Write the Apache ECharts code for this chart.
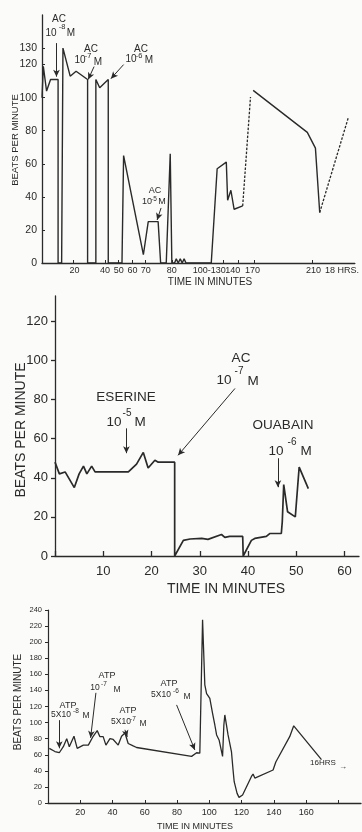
<!DOCTYPE html>
<html>
<head>
<meta charset="utf-8">
<script src="https://cdn.jsdelivr.net/npm/echarts@6/dist/echarts.min.js"></script>
<style>
  html, body { margin: 0; background: #fbfbf9; }
  #chart { width: 362px; height: 832px; }
</style>
</head>
<body>
<div id="chart"></div>
<script>
// ---- panel 1 (broken time axis: x = position along the axis, roughly minutes at the start)
const p1LabelPos = [22, 42.7, 52, 61.3, 70.3, 88, 113.3, 129.3, 142.7, 184, 203.3];
const p1LabelText = ['20', '40', '50', '60', '70', '80', '100-130', '140', '170', '210', '18 HRS.'];
const p1TickPos = [21.3, 42.7, 52, 61.3, 70.3, 88, 122.7, 133.1, 143.5, 183.1];
const p1YTicks = [0, 20, 40, 60, 80, 100, 120, 130];
const p1Trace = [[0,100],[0.9,119],[3.1,104],[5.8,111],[10.9,111],[10.9,0],[13.3,0],[14.2,130],[19.1,113],
  [23.1,116],[30.9,111],[30.9,0],[36.5,0],[36.5,111],[39.1,106],[44.9,111],[44.9,0],[54.2,0],[55.3,65],
  [68.7,5],[72,25],[78.7,25],[80.4,0],[84.2,0],[86.9,66],[88,0],[89.8,0],[91,2.5],[92.3,0],[93.7,2.5],
  [95,0],[96.3,2.5],[97.6,0],[114.7,0],[118.7,57],[124.9,61],[125.8,38],[128,44],[130.2,32.5],[136,34.5]];
const p1Gap1 = [[136,34.5],[141.3,100.4]];
const p1Late = [[143.1,104.4],[179.8,79],[185.3,69.5],[188.2,30.5]];
const p1Gap2 = [[188.2,30.5],[207.5,87.7]];
const p1Arrows = [[9.8,133,9.8,112.7],[35.3,118.8,31.3,111],[55.3,120,46.7,111.5],[80.7,33.3,78,26]];

// ---- panel 2 (minutes)
const p2Trace = [[0,48],[0.9,42],[2.1,43],[4,35],[5,42],[5.9,46],[6.6,42],[7.6,46],[8.3,43],[15.2,43],
  [16.9,47],[18.3,53],[19.3,45],[20.7,49],[21.4,48],[24.8,48],[24.8,0],[25.2,0],[26.6,8],[28,8.7],
  [30.4,9],[31.7,8.5],[34.5,11],[35.2,9.5],[36.2,10],[38.9,10],[39,0],[39.3,0],[40.7,8],[41.4,9],
  [43.8,10],[44.5,11.5],[46.9,11.5],[47.1,17.5],[47.4,36.5],[48.2,22.6],[49.8,20],[50.6,45.5],[52.5,34.5]];
const p2Arrows = [[14.8,65.3,14.8,52.6],[37.3,85.7,25.5,51.5],[46.2,50,46.2,35.2]];

// ---- panel 3 (minutes)
const p3Trace = [[0.8,68],[4.3,64],[7,62.5],[9.5,70],[11.6,80],[13.2,70],[16.1,83],[18.1,68],[21.9,72],
  [25,72],[28,83],[30.5,90],[32.2,82.5],[34.2,82.5],[35.9,72],[38.4,80],[40.4,79],[43.5,72],[45.6,83],
  [47.7,87],[49.7,74],[52.8,71],[54.9,69],[89,58],[92.1,62.5],[94.1,62],[95.8,228],[97.2,147],[98.3,136],
  [100.3,130],[102,111.5],[103.4,97],[104.5,84.6],[106.1,78],[108.2,58],[109,97],[109.6,109.5],[111.6,84.6],
  [113.7,64],[114.7,41],[115.4,26.5],[117.2,12],[118.4,7],[120.6,10],[126.1,33],[127.1,36],[128.2,31],
  [139.5,41],[141.2,51],[149.8,82.5],[152.3,96],[169.5,54]];
const p3Arrows = [[7,103,7,68],[29.7,137,26.4,81],[47.7,91,49.1,82],[79.7,122,91,66]];

// annotation texts: [text, x, y, size]
const notes = [
  ['AC',59,19,10],['10',51,33,10],['-8',62,27,7.5],['M',71,33,10],
  ['AC',91,49,10],['10',80,60,10],['-7',88,56,7.5],['M',98,62,10],
  ['AC',141,49,10],['10',131,59,10],['-6',139,56,7.5],['M',149,60,10],
  ['AC',155,191,9],['10',147,202,9],['-5',154,199,6.5],['M',162,202,9],
  ['ESERINE',126,397,13.5],['10',114,422,13.5],['-5',127,413,10],['M',140,422,13.5],
  ['AC',241,358,13.5],['10',224,380,13.5],['-7',239,371,10],['M',253,381,13.5],
  ['OUABAIN',283,425,13.5],['10',276,451,13.5],['-6',292,442,10],['M',306,451,13.5],
  ['ATP',68,706,9],['5X10',61,715,8.5],['-8',76,711,6.5],['M',86,716,8.5],
  ['ATP',107,676,9],['10',95,688,8.5],['-7',104,684,6.5],['M',117,690,8.5],
  ['ATP',128,711,9],['5X10',121,722,8.5],['-7',133,719,6.5],['M',143,724,8.5],
  ['ATP',169,684,9],['5X10',161,695,8.5],['-6',176,691,6.5],['M',187,697,8.5],
  ['16HRS',323,763,8],['\u2192',343,767,8]
];

const INK = '#2a2a2a';
const FONT = 'Liberation Sans';

const chart = echarts.init(document.getElementById('chart'), null, { renderer: 'canvas' });

function arrows(list) {
  return {
    silent: true,
    symbol: ['none', 'arrow'],
    symbolSize: [5, 7],
    label: { show: false },
    emphasis: { disabled: true },
    lineStyle: { color: INK, width: 1, type: 'solid' },
    data: list.map(a => [{ coord: [a[0], a[1]] }, { coord: [a[2], a[3]] }])
  };
}

function trace(data, idx, width, dashed, marks) {
  const s = {
    type: 'line',
    data: data,
    xAxisIndex: idx,
    yAxisIndex: idx,
    showSymbol: false,
    silent: true,
    lineStyle: { color: INK, width: width, type: dashed ? [2.5, 1.5] : 'solid' },
    animation: false
  };
  if (marks) s.markLine = arrows(marks);
  return s;
}

function label(text, x, y, size, rotate) {
  return {
    type: 'text', x: x, y: y, rotation: rotate ? Math.PI / 2 : 0,
    style: { text: text, fontSize: size, fontFamily: FONT, fill: INK, align: 'center', verticalAlign: 'middle' }
  };
}

const axisBase = {
  axisLine: { lineStyle: { color: INK, width: 1.3 } },
  splitLine: { show: false },
  axisLabel: { color: INK, fontFamily: FONT, hideOverlap: false }
};

const option = {
  backgroundColor: '#fbfbf9',
  animation: false,
  grid: [
    { left: 42, top: 15, width: 318, height: 248 },
    { left: 55, top: 296, width: 304, height: 260 },
    { left: 48, top: 610, width: 313, height: 193 }
  ],
  xAxis: [
    {
      type: 'value', gridIndex: 0, min: 0, max: 212,
      axisLine: axisBase.axisLine, splitLine: axisBase.splitLine,
      axisTick: { inside: true, length: 3, customValues: p1TickPos, lineStyle: { color: INK } },
      axisLabel: {
        ...axisBase.axisLabel, fontSize: 9, margin: 3, customValues: p1LabelPos,
        formatter: v => { const i = p1LabelPos.findIndex(p => Math.abs(p - v) < 0.01); return i < 0 ? '' : p1LabelText[i]; }
      }
    },
    {
      type: 'value', gridIndex: 1, min: 0, max: 63, interval: 10,
      axisLine: axisBase.axisLine, splitLine: axisBase.splitLine,
      axisTick: { inside: true, length: 5, lineStyle: { color: INK, width: 1.3 } },
      axisLabel: { ...axisBase.axisLabel, fontSize: 13, margin: 9, showMaxLabel: false,
        formatter: v => v === 0 ? '' : String(v) }
    },
    {
      type: 'value', gridIndex: 2, min: 0, max: 194, interval: 20,
      axisLine: axisBase.axisLine, splitLine: axisBase.splitLine,
      axisTick: { inside: true, length: 3, lineStyle: { color: INK } },
      axisLabel: { ...axisBase.axisLabel, fontSize: 9, margin: 5, showMaxLabel: false,
        formatter: v => (v === 0 || v === 180 || v === 194) ? '' : String(v) }
    }
  ],
  yAxis: [
    {
      type: 'value', gridIndex: 0, min: 0, max: 150,
      axisLine: { show: true, lineStyle: { color: INK, width: 1.3 } }, splitLine: axisBase.splitLine,
      axisTick: { show: true, inside: true, length: 3, customValues: p1YTicks, lineStyle: { color: INK } },
      axisLabel: { ...axisBase.axisLabel, fontSize: 10.5, margin: 5, customValues: p1YTicks }
    },
    {
      type: 'value', gridIndex: 1, min: 0, max: 133, interval: 20,
      axisLine: { show: true, lineStyle: { color: INK, width: 1.3 } }, splitLine: axisBase.splitLine,
      axisTick: { show: true, length: 4, lineStyle: { color: INK, width: 1.3 } },
      axisLabel: { ...axisBase.axisLabel, fontSize: 13, margin: 7, showMaxLabel: false }
    },
    {
      type: 'value', gridIndex: 2, min: 0, max: 240, interval: 20,
      axisLine: { show: true, lineStyle: { color: INK, width: 1.2 } }, splitLine: axisBase.splitLine,
      axisTick: { show: true, length: 3, lineStyle: { color: INK } },
      axisLabel: { ...axisBase.axisLabel, fontSize: 7.5, margin: 6 }
    }
  ],
  series: [
    trace(p1Trace, 0, 1.4, false, p1Arrows),
    trace(p1Gap1, 0, 1.3, true),
    trace(p1Late, 0, 1.4, false),
    trace(p1Gap2, 0, 1.3, true),
    trace(p2Trace, 1, 1.7, false, p2Arrows),
    trace(p3Trace, 2, 1.3, false, p3Arrows)
  ],
  graphic: [
    label('BEATS PER MINUTE', 15, 140, 9.5, true),
    label('TIME IN MINUTES', 210, 282, 10),
    label('BEATS PER MINUTE', 21, 430, 14, true),
    label('TIME IN MINUTES', 226, 589, 14),
    label('BEATS PER MINUTE', 18, 702, 10, true),
    label('TIME IN MINUTES', 195, 827, 9)
  ].concat(notes.map(n => label(n[0], n[1], n[2], n[3])))
};

chart.setOption(option);
</script>
</body>
</html>
